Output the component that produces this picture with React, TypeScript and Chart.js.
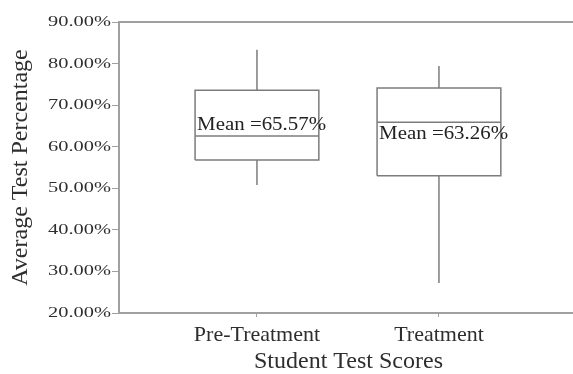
import React, { useEffect, useRef } from "react";
import { Chart, registerables } from "chart.js";

Chart.register(...registerables);

const categories = ["Pre-Treatment", "Treatment"];
const whiskerLow = [50.8, 27.2];
const q1 = [56.8, 53.0];
const median = [62.6, 65.9];
const q3 = [73.6, 74.1];
const whiskerHigh = [83.3, 79.4];
const means = [65.57, 63.26];
const meanLabels = ["Mean =65.57%", "Mean =63.26%"];
const yTickValues = [20, 30, 40, 50, 60, 70, 80, 90];
const yTickLabels = ["20.00%", "30.00%", "40.00%", "50.00%", "60.00%", "70.00%", "80.00%", "90.00%"];
const xTitle = "Student Test Scores";
const yTitle = "Average Test Percentage";

const FONT = "'Liberation Serif', 'Times New Roman', serif";
const LINE = "#7c7c7c";
const AXIS = "#a0a0a0";
const TEXT = "#2e2e2e";
const HALF = 0.34;
const X_MIN = 0.242;
const X_MAX = 2.764;

function buildDatasets() {
  const ds: any[] = [];
  const base = { borderColor: LINE, borderWidth: 1.5, pointRadius: 0, fill: false, tension: 0 };
  categories.forEach((_, i) => {
    const c = i + 1;
    ds.push({ ...base, data: [
      { x: c - HALF, y: q1[i] }, { x: c + HALF, y: q1[i] }, { x: c + HALF, y: q3[i] },
      { x: c - HALF, y: q3[i] }, { x: c - HALF, y: q1[i] },
    ] });
    ds.push({ ...base, data: [{ x: c - HALF, y: median[i] }, { x: c + HALF, y: median[i] }] });
    ds.push({ ...base, data: [{ x: c, y: q3[i] }, { x: c, y: whiskerHigh[i] }] });
    ds.push({ ...base, data: [{ x: c, y: whiskerLow[i] }, { x: c, y: q1[i] }] });
  });
  return ds;
}

const labelPlugin = {
  id: "labelPlugin",
  afterDraw(chart: any) {
    const { ctx, scales } = chart;
    const xs = scales.x;
    const ys = scales.y;
    // y tick labels (stretched horizontally like the reference)
    ctx.save();
    ctx.fillStyle = TEXT;
    ctx.font = `15px ${FONT}`;
    ctx.textAlign = "right";
    ctx.textBaseline = "middle";
    yTickValues.forEach((v, i) => {
      const py = ys.getPixelForValue(v);
      ctx.save();
      ctx.translate(111, py);
      ctx.scale(1.36, 1);
      ctx.fillText(yTickLabels[i], 0, 0);
      ctx.restore();
    });
    ctx.restore();
    // mean labels
    ctx.save();
    ctx.fillStyle = "#222";
    ctx.font = `19px ${FONT}`;
    ctx.textAlign = "left";
    ctx.textBaseline = "middle";
    means.forEach((m, i) => {
      const px = xs.getPixelForValue(i + 1 - HALF) + 2;
      const py = ys.getPixelForValue(m) + 1;
      ctx.save();
      ctx.translate(px, py);
      ctx.scale(1.1, 1);
      ctx.fillText(meanLabels[i], 0, 0);
      ctx.restore();
    });
    ctx.restore();
  },
};

export default function App() {
  const ref = useRef<HTMLCanvasElement>(null);
  useEffect(() => {
    if (!ref.current) return;
    const chart = new Chart(ref.current, {
      type: "line",
      data: { datasets: buildDatasets() },
      plugins: [labelPlugin],
      options: {
        animation: false,
        responsive: false,
        parsing: true,
        layout: { padding: { left: 0, right: 12, top: 22, bottom: 0 } },
        plugins: { legend: { display: false }, tooltip: { enabled: false } },
        scales: {
          x: {
            type: "linear",
            position: "bottom",
            min: X_MIN,
            max: X_MAX,
            afterBuildTicks: (s: any) => { s.ticks = categories.map((_, i) => ({ value: i + 1 })); },
            afterFit: (s: any) => { s.height = 61; },
            ticks: {
              autoSkip: false,
              maxRotation: 0,
              padding: 5,
              color: TEXT,
              font: { family: FONT, size: 22 },
              callback: (v: any) => categories[Number(v) - 1] ?? "",
            },
            grid: { display: true, drawOnChartArea: false, drawTicks: true, tickLength: 4, color: AXIS },
            border: { display: true, color: AXIS, width: 2 },
            title: {
              display: true,
              text: xTitle,
              color: TEXT,
              font: { family: FONT, size: 24, lineHeight: 1 },
              padding: { top: 0, bottom: 0 },
            },
          },
          x2: {
            type: "linear",
            position: "top",
            min: X_MIN,
            max: X_MAX,
            afterFit: (s: any) => { s.height = 0; },
            ticks: { display: false },
            grid: { display: false, drawTicks: false },
            border: { display: true, color: AXIS, width: 2 },
          },
          y: {
            type: "linear",
            position: "left",
            min: 20,
            max: 90,
            afterBuildTicks: (s: any) => { s.ticks = yTickValues.map((v) => ({ value: v })); },
            afterFit: (s: any) => { s.width = 119; },
            ticks: { display: false },
            grid: { display: true, drawOnChartArea: false, drawTicks: true, tickLength: 7, color: AXIS },
            border: { display: true, color: AXIS, width: 2 },
            title: {
              display: true,
              text: yTitle,
              color: TEXT,
              font: { family: FONT, size: 24, lineHeight: 1 },
              padding: { top: 9, bottom: 0 },
            },
          },
        },
      },
    });
    return () => chart.destroy();
  }, []);
  return (
    <div style={{ position: "fixed", left: 0, top: 0, width: 590, height: 374, background: "#fff" }}>
      <canvas ref={ref} width={590} height={374} style={{ display: "block" }} />
    </div>
  );
}
